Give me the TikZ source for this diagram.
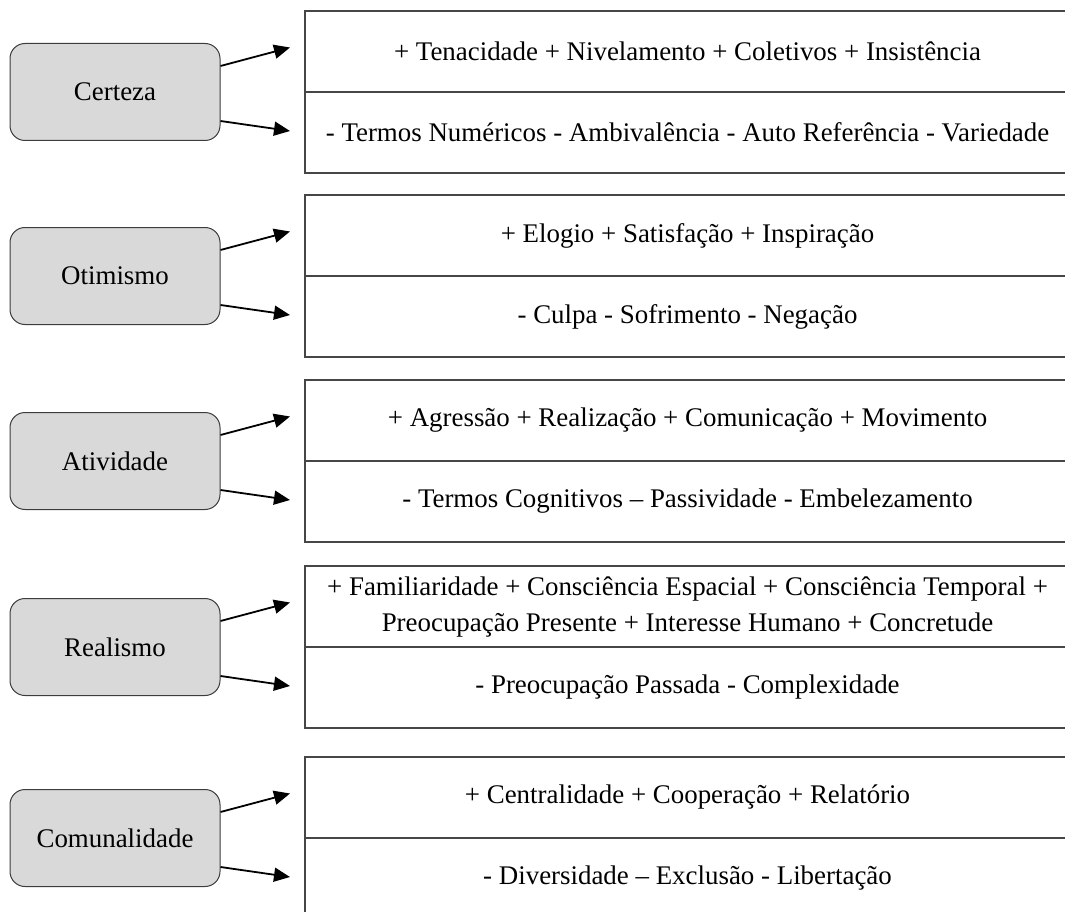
\documentclass[tikz,border=0pt]{standalone}
\usepackage{fontspec}
\setmainfont{Liberation Serif}
\usepackage{tikz}
\usetikzlibrary{arrows.meta,positioning,calc}
\definecolor{catfill}{RGB}{217,217,217}
\definecolor{catline}{RGB}{60,60,60}
\definecolor{cellline}{RGB}{70,70,70}

\begin{document}
\begin{tikzpicture}[x=1pt, y=-1pt, font=\fontsize{26.9}{36}\selectfont,
  catbox/.style={draw=catline, fill=catfill, rounded corners=15pt, line width=1pt, minimum width=210pt, minimum height=97pt, inner sep=0pt},
  cell/.style={draw=cellline, line width=1.3pt, minimum width=765pt, minimum height=81pt, inner sep=0pt, outer sep=0pt, align=center},
  arr/.style={-{Triangle[length=16pt,width=14pt]}, line width=1.8pt, black}]
\useasboundingbox (0,0) rectangle (1065,912);
\clip (0,0) rectangle (1065,912);
% Certeza
\node[catbox] (cert) at (115,92) {Certeza};
\node[cell, anchor=south west] (certP) at (305,92) {+ Tenacidade + Nivelamento + Coletivos + Insistência};
\node[cell, below=0pt of certP] (certM) {- Termos Numéricos - Ambivalência - Auto Referência - Variedade};
\draw[arr] ([yshift=26pt]cert.east) -- ([xshift=-15pt,yshift=4pt]certP.west);
\draw[arr] ([yshift=-29pt]cert.east) -- ([xshift=-15pt,yshift=1.5pt]certM.west);
% Otimismo
\node[catbox] (otim) at (115,276) {Otimismo};
\node[cell, anchor=south west] (otimP) at (305,276) {+ Elogio + Satisfação + Inspiração};
\node[cell, below=0pt of otimP] (otimM) {- Culpa - Sofrimento - Negação};
\draw[arr] ([yshift=26pt]otim.east) -- ([xshift=-15pt,yshift=4pt]otimP.west);
\draw[arr] ([yshift=-29pt]otim.east) -- ([xshift=-15pt,yshift=1.5pt]otimM.west);
% Atividade
\node[catbox] (ativ) at (115,461) {Atividade};
\node[cell, anchor=south west] (ativP) at (305,461) {+ Agressão + Realização + Comunicação + Movimento};
\node[cell, below=0pt of ativP] (ativM) {- Termos Cognitivos -- Passividade - Embelezamento};
\draw[arr] ([yshift=26pt]ativ.east) -- ([xshift=-15pt,yshift=4pt]ativP.west);
\draw[arr] ([yshift=-29pt]ativ.east) -- ([xshift=-15pt,yshift=1.5pt]ativM.west);
% Realismo
\node[catbox] (real) at (115,647) {Realismo};
\node[cell, anchor=south west] (realP) at (305,647) {+ Familiaridade + Consciência Espacial + Consciência Temporal +\\Preocupação Presente + Interesse Humano + Concretude};
\node[cell, below=0pt of realP] (realM) {- Preocupação Passada - Complexidade};
\draw[arr] ([yshift=26pt]real.east) -- ([xshift=-15pt,yshift=4pt]realP.west);
\draw[arr] ([yshift=-29pt]real.east) -- ([xshift=-15pt,yshift=1.5pt]realM.west);
% Comunalidade
\node[catbox] (comu) at (115,838) {Comunalidade};
\node[cell, anchor=south west] (comuP) at (305,838) {+ Centralidade + Cooperação + Relatório};
\node[cell, below=0pt of comuP] (comuM) {- Diversidade -- Exclusão - Libertação};
\draw[arr] ([yshift=26pt]comu.east) -- ([xshift=-15pt,yshift=4pt]comuP.west);
\draw[arr] ([yshift=-29pt]comu.east) -- ([xshift=-15pt,yshift=1.5pt]comuM.west);
\end{tikzpicture}
\end{document}
